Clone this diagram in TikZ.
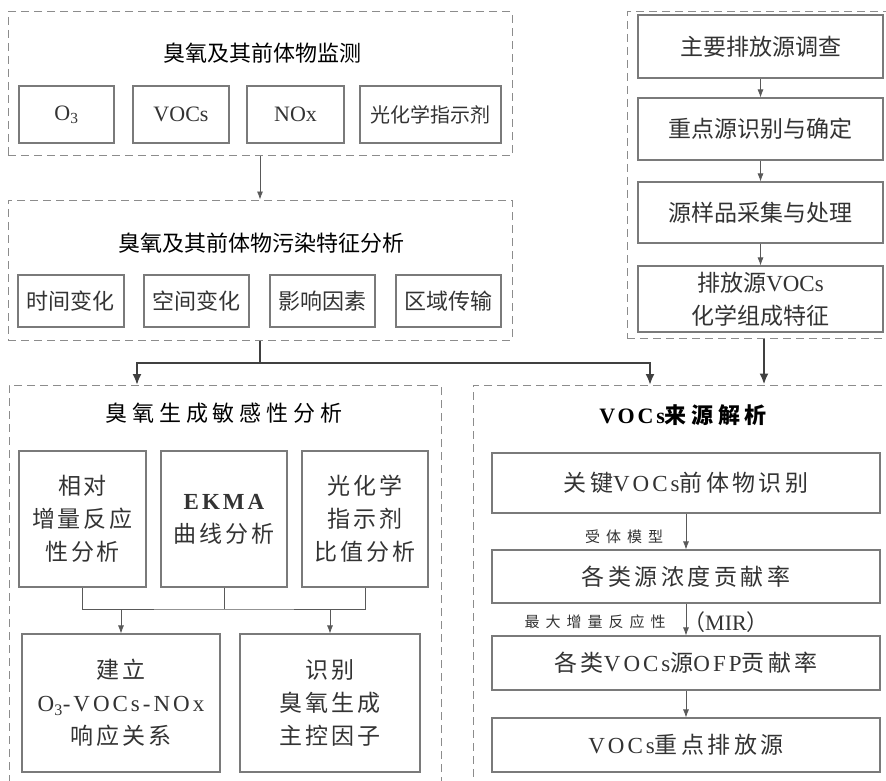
\documentclass[tikz,border=0pt]{standalone}
\usepackage{fontspec}
\usetikzlibrary{arrows.meta}
\setmainfont{Noto Sans CJK SC}
\newfontfamily\tnr{Liberation Serif}
\newfontfamily\tnrs[LetterSpace=13]{Liberation Serif}
\definecolor{boxline}{HTML}{7A7A7A}
\definecolor{dashline}{HTML}{8C8C8C}
\definecolor{txt}{HTML}{333333}
\definecolor{arrowline}{HTML}{595959}
\definecolor{thickline}{HTML}{404040}
\begin{document}
\begin{tikzpicture}[x=1pt,y=-1pt,>={Latex[length=8pt,width=6pt]},
  box/.style={draw=boxline, line width=1.1pt, text=txt, align=center, inner sep=0pt,
    font=\fontsize{22}{33}\selectfont},
  srvbox/.style={box, font=\fontsize{23}{33}\selectfont},
  sensbox/.style={box, font=\fontsize{23}{33}\selectfont\addfontfeature{LetterSpace=13}\let\tnr\tnrs},
  wide/.style={box, font=\fontsize{23}{33}\selectfont\addfontfeature{LetterSpace=15}\let\tnr\tnrs},
  group/.style={draw=dashline, dash pattern=on 8pt off 5pt, line width=1pt, inner sep=0pt},
  title/.style={text=black, font=\fontsize{22}{26}\selectfont},
  flow/.style={->, draw=arrowline, line width=0.8pt},
  main/.style={-{Latex[length=11pt,width=9pt]}, draw=thickline, line width=2pt},
  note/.style={text=txt, font=\fontsize{15}{17}\selectfont\addfontfeature{LetterSpace=40}}]
  \clip (0,0) rectangle (886,781);
  % dashed groups
  \node[group, minimum width=504pt, minimum height=144pt] (monitor) at (260,84) {};
  \node[group, minimum width=504pt, minimum height=140pt] (feature) at (260,270) {};
  \node[group, minimum width=268pt, minimum height=326pt] (survey) at (761,175) {};
  \node[group, minimum width=432pt, minimum height=410pt] (sens) at (225,590) {};
  \node[group, minimum width=422pt, minimum height=410pt] (src) at (684,590) {};
  \node[title] (tmonitor) at (262,53) {臭氧及其前体物监测};
  \node[title] (tfeature) at (261,243) {臭氧及其前体物污染特征分析};
  \node[title, font=\fontsize{22}{26}\selectfont\addfontfeature{LetterSpace=22}] (tsens) at (224,413) {臭氧生成敏感性分析};
  \node[title, font=\fontsize{22}{26}\selectfont\bfseries\addfontfeature{LetterSpace=21}] (tsrc) at (683,415) {{\tnrs\bfseries VOCs}来源解析};
  % monitoring
  \node[box, minimum width=95pt, minimum height=57pt] (o3) at (66.5,114.5) {\tnr O\textsubscript{3}};
  \node[box, minimum width=96pt, minimum height=57pt] (voc) at (181,114.5) {\tnr VOCs};
  \node[box, minimum width=97pt, minimum height=57pt] (nox) at (295.5,114.5) {\tnr NOx};
  \node[box, minimum width=141pt, minimum height=57pt, font=\fontsize{20}{24}\selectfont] (ind) at (430.5,114.5) {光化学指示剂};
  % features
  \node[box, minimum width=106pt, minimum height=52pt] (time) at (71,301) {时间变化};
  \node[box, minimum width=105pt, minimum height=52pt] (space) at (196.5,301) {空间变化};
  \node[box, minimum width=105pt, minimum height=52pt] (factor) at (322.5,301) {影响因素};
  \node[box, minimum width=105pt, minimum height=52pt] (trans) at (448.5,301) {区域传输};
  % source survey
  \node[srvbox, minimum width=245pt, minimum height=63pt] (s1) at (760.5,46.5) {主要排放源调查};
  \node[srvbox, minimum width=245pt, minimum height=62pt] (s2) at (760.5,129) {重点源识别与确定};
  \node[srvbox, minimum width=245pt, minimum height=61pt] (s3) at (760.5,212.5) {源样品采集与处理};
  \node[srvbox, minimum width=245pt, minimum height=66pt] (s4) at (760.5,299) {排放源{\tnr VOCs}\\化学组成特征};
  % sensitivity
  \node[sensbox, minimum width=127pt, minimum height=136pt] (r1) at (82.5,519) {相对\\增量反应\\性分析};
  \node[sensbox, minimum width=126pt, minimum height=136pt] (r2) at (224,519) {{\tnr\bfseries EKMA}\\曲线分析};
  \node[sensbox, minimum width=126pt, minimum height=136pt] (r3) at (365,519) {光化学\\指示剂\\比值分析};
  \node[sensbox, minimum width=198pt, minimum height=138pt] (b1) at (121,703) {建立\\{\tnr O\textsubscript{3}-VOCs-NOx}\\响应关系};
  \node[sensbox, minimum width=180pt, minimum height=138pt] (b2) at (330,703) {识别\\臭氧生成\\主控因子};
  % VOCs sources
  \node[wide, minimum width=388pt, minimum height=60pt] (k1) at (686,483) {关键{\tnr VOCs}前体物识别};
  \node[wide, minimum width=388pt, minimum height=53pt] (k2) at (686,576.5) {各类源浓度贡献率};
  \node[wide, minimum width=388pt, minimum height=54pt] (k3) at (686,663) {各类{\tnr VOCs}源{\tnr OFP}贡献率};
  \node[wide, minimum width=388pt, minimum height=54pt] (k4) at (686,745) {{\tnr VOCs}重点排放源};
  \node[note] (lrecep) at (624,537) {受体模型};
  \node[note] (lmir) at (595,622) {最大增量反应性};
  \node[text=txt, font=\fontsize{22}{24}\selectfont] (lmir2) at (726,622) {（{\tnr MIR}）};
  % connectors
  \draw[flow] (monitor.south) -- (feature.north);
  \coordinate (split) at (260,363);
  \coordinate (sensin) at (137,385);
  \coordinate (srcin) at (650,385);
  \draw[main] (feature.south) -- (split) -| (sensin);
  \draw[main] (split) -| (srcin);
  \draw[main] ([xshift=3.5pt]survey.south -| s4.south) -- ([xshift=3.5pt]src.north -| s4.south);
  \draw[flow] (s1) -- (s2);
  \draw[flow] (s2) -- (s3);
  \draw[flow] (s3) -- (s4);
  \coordinate (bus) at (224,609);
  \draw[draw=arrowline, line width=0.8pt] (r1.south) |- (bus) -| (r3.south);
  \draw[draw=arrowline, line width=0.8pt] (r2.south) -- (bus);
  \draw[flow] (bus -| b1.north) -- (b1.north);
  \draw[flow] (bus -| b2.north) -- (b2.north);
  \draw[flow] (k1) -- (k2);
  \draw[flow] (k2) -- (k3);
  \draw[flow] (k3) -- (k4);
\end{tikzpicture}
\end{document}
